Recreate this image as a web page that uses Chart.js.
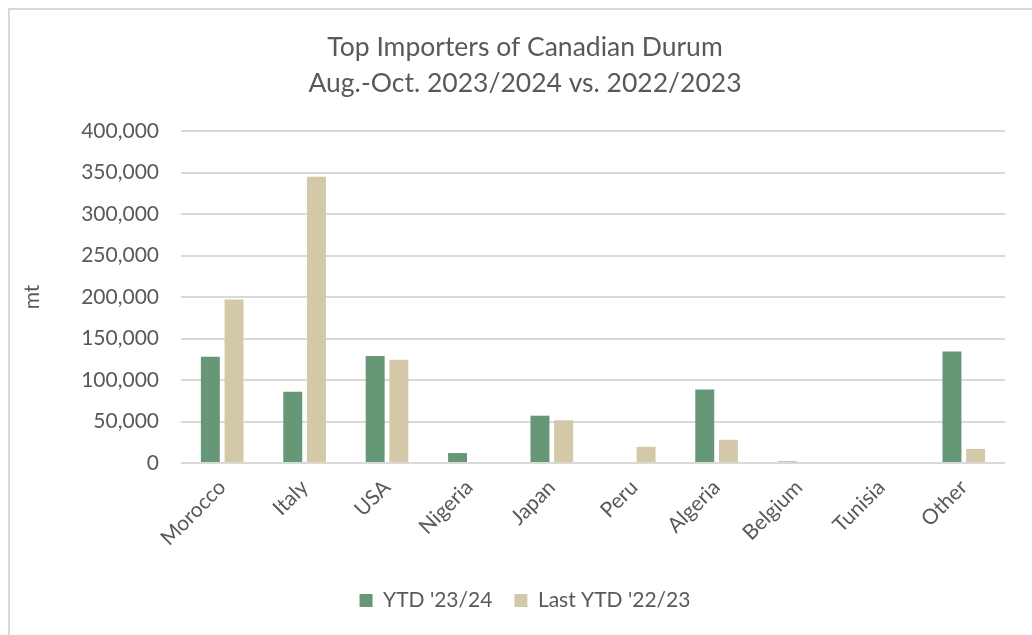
<!DOCTYPE html>
<html>
<head>
<meta charset="utf-8">
<script src="https://cdn.jsdelivr.net/npm/chart.js@4.4.0/dist/chart.umd.min.js"></script>
<style>
  body { margin: 0; background: #ffffff; overflow: hidden; }
  #frame {
    position: absolute;
    left: 8px;
    top: 8px;
    width: 1100px;
    height: 700px;
    border-left: 2px solid #d9d9d9;
    border-top: 2px solid #d9d9d9;
  }
  #wrap { position: absolute; left: 0; top: 0; width: 1032px; height: 635px; }
</style>
</head>
<body>
<div id="frame"></div>
<div id="wrap"><canvas id="durumChart"></canvas></div>
<script>
var countries = ["Morocco", "Italy", "USA", "Nigeria", "Japan", "Peru", "Algeria", "Belgium", "Tunisia", "Other"];
var ytd2324 = [128000, 86000, 129000, 12000, 57000, 0, 88500, 1800, 0, 134500];
var ytd2223 = [197000, 345000, 124500, 0, 51500, 19500, 28000, 0, 0, 17000];
var yTicks = [0, 50000, 100000, 150000, 200000, 250000, 300000, 350000, 400000];

var textColor = "#595959";
var fontName = "Lato, 'Open Sans', sans-serif";

var chartBox = document.getElementById("durumChart");
var chart1 = new Chart(chartBox, {
  type: "bar",
  data: {
    labels: countries,
    datasets: [
      {
        label: "YTD '23/24",
        data: ytd2324,
        backgroundColor: "#669878",
        categoryPercentage: 0.575,
        barPercentage: 0.8,
      },
      {
        label: "Last YTD '22/23",
        data: ytd2223,
        backgroundColor: "#d3c9a9",
        categoryPercentage: 0.575,
        barPercentage: 0.8,
      },
    ],
  },
  options: {
    responsive: true,
    maintainAspectRatio: false,
    animation: false,
    layout: {
      padding: { left: 45, right: 27, top: 0, bottom: 14 },
    },
    plugins: {
      title: {
        display: true,
        text: ["Top Importers of Canadian Durum", "Aug.-Oct. 2023/2024 vs. 2022/2023"],
        color: textColor,
        font: { family: fontName, size: 26.5, weight: "normal", lineHeight: 1.36 },
        padding: { top: 29, bottom: 30 },
      },
      legend: {
        position: "bottom",
        labels: {
          color: textColor,
          font: { family: fontName, size: 21 },
          boxWidth: 13,
          boxHeight: 13,
          padding: 22,
        },
      },
      tooltip: { enabled: false },
    },
    scales: {
      x: {
        grid: { display: false },
        border: { display: false },
        ticks: {
          color: textColor,
          font: { family: fontName, size: 21 },
          minRotation: 45,
          maxRotation: 45,
          padding: 4,
        },
        afterFit: function (scale) {
          scale.height = 105;
        },
      },
      y: {
        min: 0,
        max: 400000,
        afterBuildTicks: function (scale) {
          scale.ticks = yTicks.map(function (v) { return { value: v }; });
        },
        grid: { color: "#d9d9d9", lineWidth: 2, drawTicks: false },
        border: { display: false },
        ticks: {
          color: textColor,
          font: { family: fontName, size: 21 },
          padding: 22,
          callback: function (value) {
            return value.toLocaleString("en-US");
          },
        },
        title: {
          display: true,
          text: "mt",
          color: textColor,
          font: { family: fontName, size: 21 },
          padding: { top: -25, bottom: 0 },
        },
        afterFit: function (scale) {
          scale.width = 136;
        },
      },
    },
  },
});
</script>
</body>
</html>
